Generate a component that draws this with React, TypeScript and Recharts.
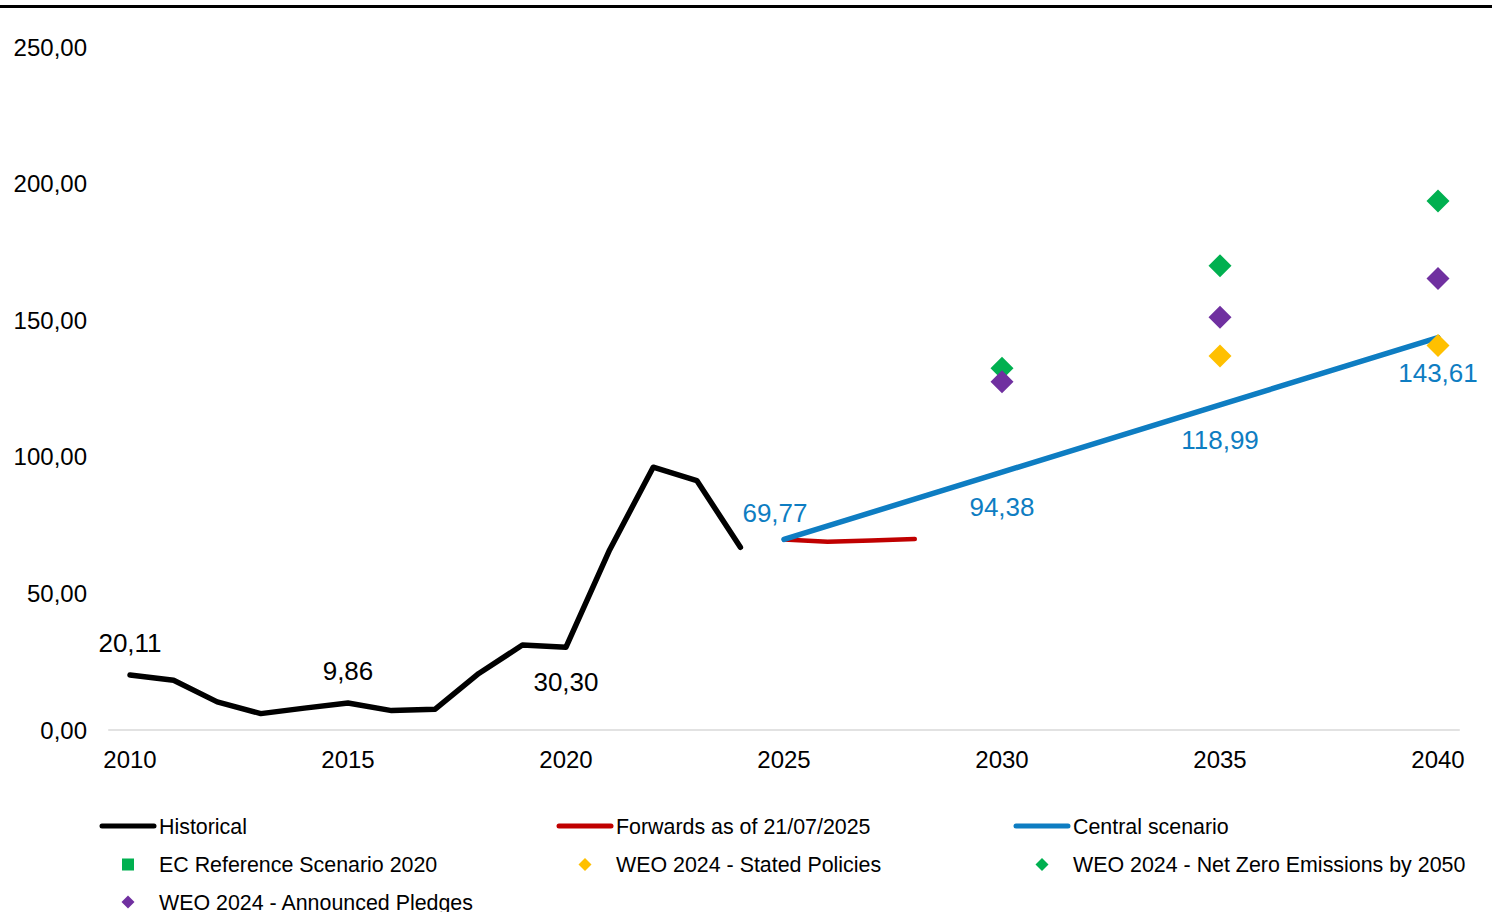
import React from 'react';
import { LineChart, Line, XAxis, YAxis } from 'recharts';

const historicalYears = [2010, 2011, 2012, 2013, 2014, 2015, 2016, 2017, 2018, 2019, 2020, 2021, 2022, 2023, 2024];
const historicalValues = [20.11, 18.2, 10.3, 6.0, 8.0, 9.86, 7.1, 7.6, 20.7, 31.1, 30.3, 65.9, 96.2, 91.3, 66.9];

const forwardYears = [2025, 2026, 2027, 2028];
const forwardValues = [69.77, 68.9, 69.4, 69.9];

const centralYears = [2025, 2030, 2035, 2040];
const centralValues = [69.77, 94.38, 118.99, 143.61];

const statedYears = [2035, 2040];
const statedValues = [136.9, 140.7];

const netZeroYears = [2030, 2035, 2040];
const netZeroValues = [132.4, 169.9, 193.6];

const pledgesYears = [2030, 2035, 2040];
const pledgesValues = [127.5, 151.1, 165.3];

const xTicks = [2010, 2015, 2020, 2025, 2030, 2035, 2040];
const yTicks = [0, 50, 100, 150, 200, 250];

const historicalLabelYears = [2010, 2015, 2020];
const historicalLabelBelow = [2020];

const seriesNames = [
  'Historical',
  'Forwards as of 21/07/2025',
  'Central scenario',
  'EC Reference Scenario 2020',
  'WEO 2024 - Stated Policies',
  'WEO 2024 - Net Zero Emissions by 2050',
  'WEO 2024 - Announced Pledges',
];

const COLORS = {
  historical: '#000000',
  forwards: '#C00000',
  central: '#0E7DC2',
  ec: '#00B050',
  stated: '#FFC000',
  netZero: '#00B050',
  pledges: '#7030A0',
};

const FONT = '"Liberation Sans", Arial, sans-serif';

const zip = (years: number[], values: number[]) => years.map((year, i) => ({ year, value: values[i] }));

const historicalData = zip(historicalYears, historicalValues);
const forwardData = zip(forwardYears, forwardValues);
const centralData = zip(centralYears, centralValues);
const statedData = zip(statedYears, statedValues);
const netZeroData = zip(netZeroYears, netZeroValues);
const pledgesData = zip(pledgesYears, pledgesValues);

const fmt = (v: number) => v.toFixed(2).replace('.', ',');

const makeDiamond = (color: string, r: number) => (props: any) => {
  const { cx, cy, index } = props;
  if (cx == null || cy == null) return <g key={`d-${index}`} />;
  return (
    <polygon
      key={`d-${index}`}
      points={`${cx},${cy - r} ${cx + r},${cy} ${cx},${cy + r} ${cx - r},${cy}`}
      fill={color}
    />
  );
};

const historicalLabel = (props: any) => {
  const { x, y, index } = props;
  const d = historicalData[index];
  if (!d || !historicalLabelYears.includes(d.year)) return null;
  const below = historicalLabelBelow.includes(d.year);
  return (
    <text
      key={`hl-${index}`}
      x={x}
      y={below ? y + 44 : y - 23.5}
      textAnchor="middle"
      fontSize={26}
      fontFamily={FONT}
      fill="#000"
    >
      {fmt(d.value)}
    </text>
  );
};

const centralLabel = (props: any) => {
  const { x, y, index } = props;
  const d = centralData[index];
  if (!d) return null;
  const first = index === 0;
  return (
    <text
      key={`cl-${index}`}
      x={first ? x - 9 : x}
      y={first ? y - 17 : y + 44}
      textAnchor="middle"
      fontSize={26}
      fontFamily={FONT}
      fill={COLORS.central}
    >
      {fmt(d.value)}
    </text>
  );
};

const YTick = (props: any) => {
  const { y, payload } = props;
  return (
    <text x={87} y={y} dy={8.5} textAnchor="end" fontSize={24} fontFamily={FONT} fill="#000">
      {fmt(payload.value)}
    </text>
  );
};

const XTick = (props: any) => {
  const { x, payload } = props;
  return (
    <text x={x} y={767.5} textAnchor="middle" fontSize={24} fontFamily={FONT} fill="#000">
      {payload.value}
    </text>
  );
};

type LegendItem = { name: string; kind: 'line' | 'square' | 'diamond'; color: string };

const legendItems: LegendItem[] = [
  { name: seriesNames[0], kind: 'line', color: COLORS.historical },
  { name: seriesNames[1], kind: 'line', color: COLORS.forwards },
  { name: seriesNames[2], kind: 'line', color: COLORS.central },
  { name: seriesNames[3], kind: 'square', color: COLORS.ec },
  { name: seriesNames[4], kind: 'diamond', color: COLORS.stated },
  { name: seriesNames[5], kind: 'diamond', color: COLORS.netZero },
  { name: seriesNames[6], kind: 'diamond', color: COLORS.pledges },
];

const legendCols = [100, 557, 1014];
const legendRows = [826, 864.5, 902];

const Legend = () => (
  <svg width={1504} height={912} style={{ position: 'absolute', left: 0, top: 0, pointerEvents: 'none' }}>
    {legendItems.map((item, i) => {
      const cx = legendCols[i % 3];
      const cy = legendRows[Math.floor(i / 3)];
      let icon: React.ReactNode = null;
      if (item.kind === 'line') {
        icon = <line x1={cx + 2} x2={cx + 54} y1={cy} y2={cy} stroke={item.color} strokeWidth={5} strokeLinecap="round" />;
      } else if (item.kind === 'square') {
        icon = <rect x={cx + 22} y={cy - 6} width={12} height={12} fill={item.color} />;
      } else {
        const r = 6.5;
        const mx = cx + 28;
        icon = <polygon points={`${mx},${cy - r} ${mx + r},${cy} ${mx},${cy + r} ${mx - r},${cy}`} fill={item.color} />;
      }
      return (
        <g key={item.name}>
          {icon}
          <text x={cx + 59} y={cy + 7.8} fontSize={21.4} fontFamily={FONT} fill="#000">
            {item.name}
          </text>
        </g>
      );
    })}
  </svg>
);

export default function App() {
  return (
    <div style={{ position: 'relative', width: 1504, height: 912, background: '#fff', fontFamily: FONT, overflow: 'hidden' }}>
      <style>{`body{margin:0;}`}</style>
      <div style={{ position: 'absolute', left: 0, top: 5, width: 1492, height: 3, background: '#000' }} />
      <LineChart
        width={1504}
        height={912}
        margin={{ top: 47, right: 44.2, bottom: 142, left: 0 }}
      >
        <XAxis
          type="number"
          dataKey="year"
          domain={[2009.5, 2040.5]}
          ticks={xTicks}
          allowDataOverflow
          tick={<XTick />}
          tickLine={false}
          axisLine={{ stroke: '#D9D9D9', strokeWidth: 1.5 }}
          height={40}
          interval={0}
        />
        <YAxis
          type="number"
          domain={[0, 250]}
          ticks={yTicks}
          tick={<YTick />}
          tickLine={false}
          axisLine={false}
          width={108.2}
          interval={0}
        />
        <Line
          data={historicalData}
          dataKey="value"
          stroke={COLORS.historical}
          strokeWidth={5.5}
          strokeLinecap="round"
          strokeLinejoin="round"
          dot={false}
          activeDot={false}
          isAnimationActive={false}
          label={historicalLabel}
        />
        <Line
          data={forwardData}
          dataKey="value"
          stroke={COLORS.forwards}
          strokeWidth={4.5}
          strokeLinecap="round"
          strokeLinejoin="round"
          dot={false}
          activeDot={false}
          isAnimationActive={false}
        />
        <Line
          data={centralData}
          dataKey="value"
          stroke={COLORS.central}
          strokeWidth={5.5}
          strokeLinecap="round"
          strokeLinejoin="round"
          dot={false}
          activeDot={false}
          isAnimationActive={false}
          label={centralLabel}
        />
        <Line
          data={netZeroData}
          dataKey="value"
          stroke="none"
          strokeWidth={0}
          dot={makeDiamond(COLORS.netZero, 11.5)}
          activeDot={false}
          isAnimationActive={false}
        />
        <Line
          data={pledgesData}
          dataKey="value"
          stroke="none"
          strokeWidth={0}
          dot={makeDiamond(COLORS.pledges, 11.5)}
          activeDot={false}
          isAnimationActive={false}
        />
        <Line
          data={statedData}
          dataKey="value"
          stroke="none"
          strokeWidth={0}
          dot={makeDiamond(COLORS.stated, 11.5)}
          activeDot={false}
          isAnimationActive={false}
        />
      </LineChart>
      <Legend />
    </div>
  );
}
